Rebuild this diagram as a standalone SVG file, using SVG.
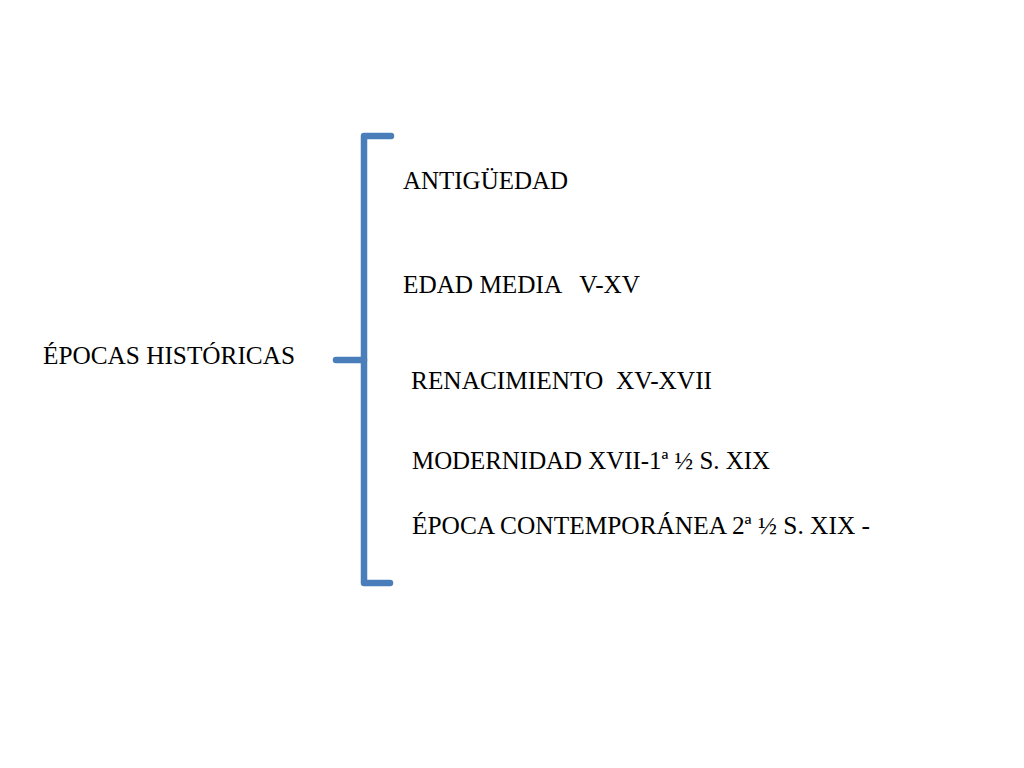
<svg xmlns="http://www.w3.org/2000/svg" width="1024" height="768" viewBox="0 0 1024 768">
<style>
.t{font-family:"Liberation Serif","DejaVu Serif",serif;font-size:24.5px;fill:#000}
.b{fill:none;stroke:#4a7ebb;stroke-width:6.5;stroke-linecap:round;stroke-linejoin:round}
</style>
<rect width="1024" height="768" fill="#fff"/>
<g id="connectors">
<path class="b" d="M391,136 L364,136 L364,583 L390,583"/>
<path class="b" d="M336,360 L364,360"/>
</g>
<g id="root"><text class="t" x="43" y="364" textLength="252" lengthAdjust="spacingAndGlyphs">ÉPOCAS HISTÓRICAS</text></g>
<g id="n1"><text class="t" x="403" y="189" textLength="165" lengthAdjust="spacingAndGlyphs">ANTIGÜEDAD</text></g>
<g id="n2"><text class="t" x="403" y="293" xml:space="preserve" textLength="237" lengthAdjust="spacingAndGlyphs">EDAD MEDIA   V-XV</text></g>
<g id="n3"><text class="t" x="411" y="389" xml:space="preserve" textLength="301" lengthAdjust="spacingAndGlyphs">RENACIMIENTO  XV-XVII</text></g>
<g id="n4"><text class="t" x="412" y="469" textLength="358" lengthAdjust="spacingAndGlyphs">MODERNIDAD XVII-1ª ½ S. XIX</text></g>
<g id="n5"><text class="t" x="412" y="534" textLength="458" lengthAdjust="spacingAndGlyphs">ÉPOCA CONTEMPORÁNEA 2ª ½ S. XIX -</text></g>
</svg>
